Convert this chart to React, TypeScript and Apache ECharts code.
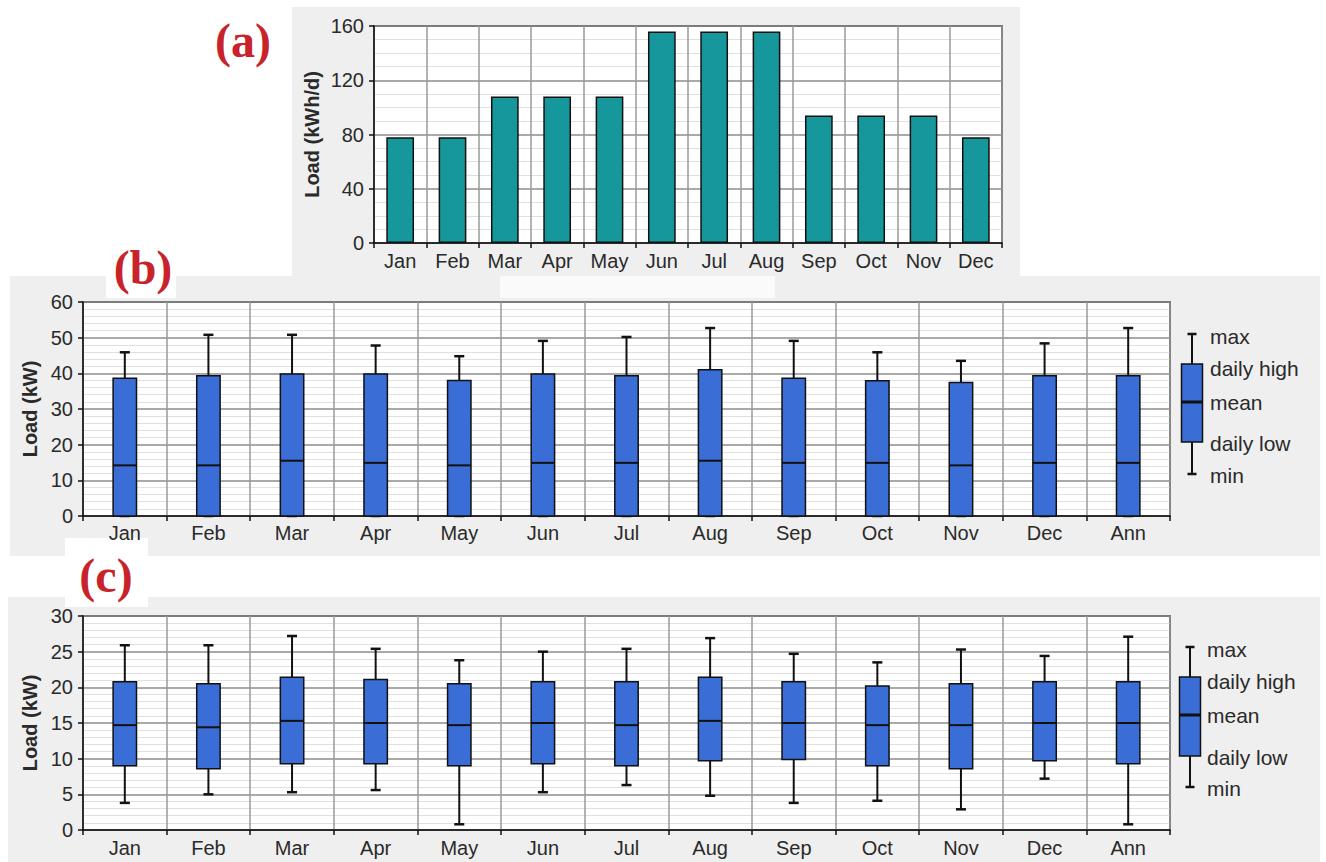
import React, { useEffect, useRef } from "react";
import * as echarts from "echarts";

// Monthly daily energy (a)
const months = ["Jan", "Feb", "Mar", "Apr", "May", "Jun", "Jul", "Aug", "Sep", "Oct", "Nov", "Dec"];
const dailyLoad = [78, 78, 108, 108, 108, 156, 156, 156, 94, 94, 94, 78];

// Load profile statistics, months + annual
const boxCategories = [...months, "Ann"];

// (b) kW
const bMin = [0, 0, 0, 0, 0, 0, 0, 0, 0, 0, 0, 0, 0];
const bLow = [0, 0, 0, 0, 0, 0, 0, 0, 0, 0, 0, 0, 0];
const bMean = [14.2, 14.2, 15.5, 14.9, 14.2, 14.9, 14.9, 15.5, 14.9, 14.9, 14.2, 14.9, 14.9];
const bHigh = [38.6, 39.3, 39.8, 39.8, 38.0, 39.8, 39.3, 41.0, 38.6, 37.9, 37.4, 39.3, 39.3];
const bMax = [45.9, 50.8, 50.8, 47.8, 44.8, 49.1, 50.2, 52.7, 49.1, 45.9, 43.5, 48.4, 52.7];

// (c) kW
const cMin = [3.8, 5.0, 5.3, 5.6, 0.8, 5.3, 6.3, 4.8, 3.8, 4.1, 2.9, 7.2, 0.8];
const cLow = [9.0, 8.6, 9.3, 9.3, 9.0, 9.3, 9.0, 9.7, 9.9, 9.0, 8.6, 9.7, 9.3];
const cMean = [14.7, 14.4, 15.3, 15.0, 14.7, 15.0, 14.7, 15.3, 15.0, 14.7, 14.7, 15.0, 15.0];
const cHigh = [20.8, 20.5, 21.4, 21.1, 20.5, 20.8, 20.8, 21.4, 20.8, 20.2, 20.5, 20.8, 20.8];
const cMax = [25.9, 25.9, 27.2, 25.4, 23.8, 25.0, 25.4, 26.9, 24.7, 23.5, 25.3, 24.4, 27.1];

const legendLabels = ["max", "daily high", "mean", "daily low", "min"];
const panelTags = ["(a)", "(b)", "(c)"];

const FONT = "Liberation Sans";
const TEXT = "#2a2a2a";
const BOX_FILL = "#3b6dd6";
const BAR_FILL = "#15979b";
const INK = "#111";

function boxRows(mn: number[], lo: number[], me: number[], hi: number[], mx: number[]) {
  return mn.map((v, i) => [i, v, lo[i], me[i], hi[i], mx[i]]);
}

function renderBox(_params: any, api: any) {
  const idx = api.value(0);
  const pMin = api.coord([idx, api.value(1)]);
  const pLow = api.coord([idx, api.value(2)]);
  const pMean = api.coord([idx, api.value(3)]);
  const pHigh = api.coord([idx, api.value(4)]);
  const pMax = api.coord([idx, api.value(5)]);
  const band = api.size([1, 0])[0];
  const bw = band * 0.28;
  const cw = band * 0.12;
  const x = pMax[0];
  const wl = { stroke: INK, lineWidth: 2 };
  const cap = { stroke: INK, lineWidth: 2.5 };
  return {
    type: "group",
    children: [
      { type: "line", shape: { x1: x, y1: pMax[1], x2: x, y2: pHigh[1] }, style: wl },
      { type: "line", shape: { x1: x - cw / 2, y1: pMax[1], x2: x + cw / 2, y2: pMax[1] }, style: cap },
      { type: "line", shape: { x1: x, y1: pLow[1], x2: x, y2: pMin[1] }, style: wl },
      { type: "line", shape: { x1: x - cw / 2, y1: pMin[1], x2: x + cw / 2, y2: pMin[1] }, style: cap },
      {
        type: "rect",
        shape: { x: x - bw / 2, y: pHigh[1], width: bw, height: pLow[1] - pHigh[1] },
        style: { fill: BOX_FILL, stroke: INK, lineWidth: 1.5 },
      },
      { type: "line", shape: { x1: x - bw / 2, y1: pMean[1], x2: x + bw / 2, y2: pMean[1] }, style: { stroke: INK, lineWidth: 2 } },
    ],
  };
}

// Key drawn to the right of a box panel
function legendKey(cx: number, ys: number[], textX: number, textYs: number[]) {
  const [yMax, yHigh, yMean, yLow, yMin] = ys;
  const bw = 21;
  const cw = 9;
  const els: any[] = [
    { type: "line", shape: { x1: cx, y1: yMax, x2: cx, y2: yMin }, style: { stroke: INK, lineWidth: 2 } },
    { type: "line", shape: { x1: cx - cw / 2, y1: yMax, x2: cx + cw / 2, y2: yMax }, style: { stroke: INK, lineWidth: 2.5 } },
    { type: "line", shape: { x1: cx - cw / 2, y1: yMin, x2: cx + cw / 2, y2: yMin }, style: { stroke: INK, lineWidth: 2.5 } },
    {
      type: "rect",
      shape: { x: cx - bw / 2, y: yHigh, width: bw, height: yLow - yHigh },
      style: { fill: BOX_FILL, stroke: INK, lineWidth: 1.5 },
    },
    { type: "line", shape: { x1: cx - bw / 2, y1: yMean, x2: cx + bw / 2, y2: yMean }, style: { stroke: INK, lineWidth: 3 } },
  ];
  legendLabels.forEach((t, i) => {
    els.push({
      type: "text",
      x: textX,
      y: textYs[i],
      style: { text: t, fill: TEXT, font: `21px "${FONT}"`, verticalAlign: "middle", align: "left" },
    });
  });
  return els;
}

function catAxis(gridIndex: number, data: string[], margin: number) {
  return {
    type: "category",
    gridIndex,
    data,
    boundaryGap: true,
    axisLine: { show: true, lineStyle: { color: INK, width: 1.5 } },
    axisTick: { show: true, interval: 0, length: 5, lineStyle: { color: INK, width: 1.5 } },
    axisLabel: { interval: 0, color: TEXT, fontSize: 20, fontFamily: FONT, margin },
    splitLine: { show: true, interval: 0, lineStyle: { color: "#9a9a9a", width: 1.5 } },
  };
}

function valAxis(gridIndex: number, max: number, interval: number, minorSplit: number, name: string, nameGap: number) {
  return {
    type: "value",
    gridIndex,
    min: 0,
    max,
    interval,
    name,
    nameLocation: "middle",
    nameGap,
    nameTextStyle: { color: TEXT, fontSize: 20, fontWeight: "bold", fontFamily: FONT },
    axisLine: { show: true, lineStyle: { color: INK, width: 1.5 } },
    axisTick: { show: true, length: 5, lineStyle: { color: INK, width: 1.5 } },
    axisLabel: { color: TEXT, fontSize: 20, fontFamily: FONT, margin: 10 },
    splitLine: { show: true, lineStyle: { color: "#8c8c8c", width: 1.5 } },
    minorTick: { show: false, splitNumber: minorSplit },
    minorSplitLine: { show: true, lineStyle: { color: "#e0e0e0", width: 1 } },
  };
}

export default function App() {
  const ref = useRef<HTMLDivElement>(null);

  useEffect(() => {
    if (!ref.current) return;
    const chart = echarts.init(ref.current, undefined, { renderer: "svg" });

    const panelBg = "#efefef";
    const bg = (x: number, y: number, w: number, h: number, fill: string) => ({
      type: "rect",
      z: -10,
      silent: true,
      shape: { x, y, width: w, height: h },
      style: { fill },
    });
    const tag = (t: string, x: number, y: number) => ({
      type: "text",
      x,
      y,
      z: 10,
      style: {
        text: t,
        fill: "#c8232a",
        font: `bold 48px "Liberation Serif"`,
        align: "center",
        verticalAlign: "middle",
      },
    });

    const gridStyle = { show: true, backgroundColor: "#ffffff", borderColor: INK, borderWidth: 1.5 };

    chart.setOption({
      animation: false,
      backgroundColor: "#ffffff",
      textStyle: { fontFamily: FONT },
      grid: [
        { left: 374, top: 26, width: 628, height: 217, ...gridStyle },
        { left: 83, top: 302, width: 1087, height: 214, ...gridStyle },
        { left: 83, top: 616, width: 1087, height: 214, ...gridStyle },
      ],
      xAxis: [catAxis(0, months, 8), catAxis(1, boxCategories, 7), catAxis(2, boxCategories, 8)],
      yAxis: [
        valAxis(0, 160, 40, 4, "Load (kWh/d)", 52),
        valAxis(1, 60, 10, 5, "Load (kW)", 43),
        valAxis(2, 30, 5, 5, "Load (kW)", 43),
      ],
      series: [
        {
          type: "bar",
          xAxisIndex: 0,
          yAxisIndex: 0,
          data: dailyLoad,
          barWidth: "53%",
          itemStyle: { color: BAR_FILL, borderColor: INK, borderWidth: 1.5 },
        },
        {
          type: "custom",
          xAxisIndex: 1,
          yAxisIndex: 1,
          renderItem: renderBox,
          encode: { x: 0, y: [1, 2, 3, 4, 5] },
          data: boxRows(bMin, bLow, bMean, bHigh, bMax),
          z: 5,
        },
        {
          type: "custom",
          xAxisIndex: 2,
          yAxisIndex: 2,
          renderItem: renderBox,
          encode: { x: 0, y: [1, 2, 3, 4, 5] },
          data: boxRows(cMin, cLow, cMean, cHigh, cMax),
          z: 5,
        },
      ],
      graphic: [
        bg(292, 7, 728, 271, panelBg),
        bg(10, 276, 1310, 280, panelBg),
        bg(500, 276, 275, 22, "#fafafa"),
        bg(106, 238, 70, 60, "#ffffff"),
        bg(8, 597, 1312, 265, panelBg),
        bg(65, 538, 83, 69, "#ffffff"),
        tag(panelTags[0], 243, 40),
        tag(panelTags[1], 143, 267),
        tag(panelTags[2], 106, 575),
        ...legendKey(1192, [334, 364, 402, 442, 474], 1210, [336, 368, 402, 443, 475]),
        ...legendKey(1190, [647, 677, 715, 756, 787], 1207, [649, 681, 715, 757, 788]),
      ],
    });

    return () => chart.dispose();
  }, []);

  return (
    <div
      ref={ref}
      style={{ position: "absolute", left: 0, top: 0, width: 1326, height: 862 }}
    />
  );
}
